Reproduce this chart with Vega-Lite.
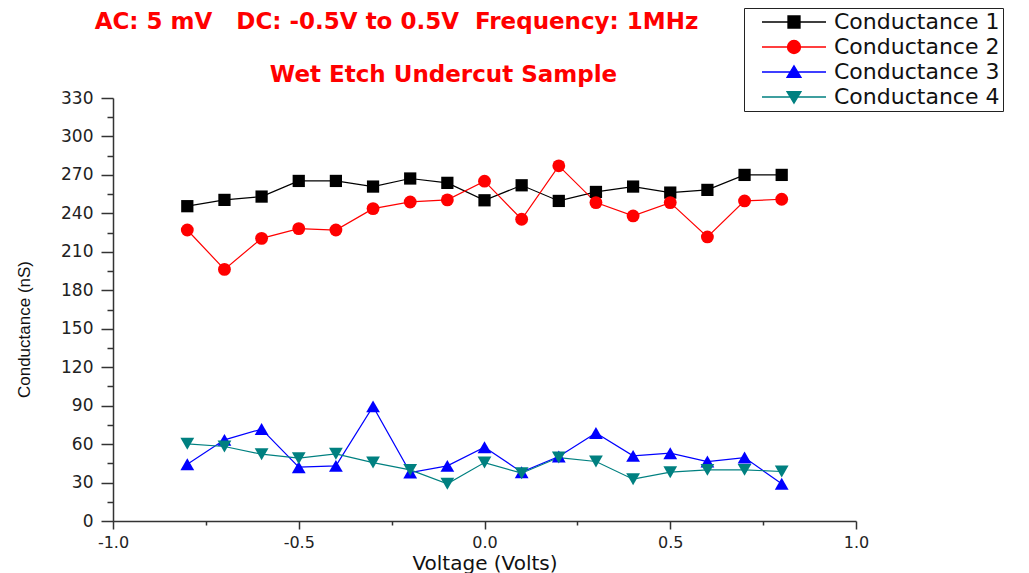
{
  "$schema": "https://vega.github.io/schema/vega-lite/v6.json",
  "width": 1029,
  "height": 573,
  "autosize": {"type": "fit", "contains": "padding"},
  "padding": {"left": 15, "top": 11, "right": 160, "bottom": 0},
  "background": "white",
  "config": {"view": {"stroke": null}},
  "title": {
    "text": "AC: 5 mV\u00a0\u00a0\u00a0DC: -0.5V to 0.5V\u00a0\u00a0Frequency: 1MHz",
    "anchor": "middle",
    "frame": "group",
    "dx": -88,
    "color": "#ff0000",
    "font": "DejaVu Sans",
    "fontWeight": "bold",
    "fontSize": 23,
    "offset": 29
  },
  "data": {
    "values": [
      {"v": -0.8, "g": 245.6, "s": "Conductance 1"},
      {"v": -0.7, "g": 250.5, "s": "Conductance 1"},
      {"v": -0.6, "g": 253.1, "s": "Conductance 1"},
      {"v": -0.5, "g": 265.3, "s": "Conductance 1"},
      {"v": -0.4, "g": 265.3, "s": "Conductance 1"},
      {"v": -0.3, "g": 260.9, "s": "Conductance 1"},
      {"v": -0.2, "g": 267.2, "s": "Conductance 1"},
      {"v": -0.1, "g": 263.8, "s": "Conductance 1"},
      {"v": 0.0, "g": 250.2, "s": "Conductance 1"},
      {"v": 0.1, "g": 261.9, "s": "Conductance 1"},
      {"v": 0.2, "g": 249.7, "s": "Conductance 1"},
      {"v": 0.3, "g": 256.7, "s": "Conductance 1"},
      {"v": 0.4, "g": 260.9, "s": "Conductance 1"},
      {"v": 0.5, "g": 256.2, "s": "Conductance 1"},
      {"v": 0.6, "g": 258.3, "s": "Conductance 1"},
      {"v": 0.7, "g": 270.0, "s": "Conductance 1"},
      {"v": 0.8, "g": 270.0, "s": "Conductance 1"},
      {"v": -0.8, "g": 227.0, "s": "Conductance 2"},
      {"v": -0.7, "g": 196.3, "s": "Conductance 2"},
      {"v": -0.6, "g": 220.5, "s": "Conductance 2"},
      {"v": -0.5, "g": 228.1, "s": "Conductance 2"},
      {"v": -0.4, "g": 227.0, "s": "Conductance 2"},
      {"v": -0.3, "g": 243.7, "s": "Conductance 2"},
      {"v": -0.2, "g": 248.9, "s": "Conductance 2"},
      {"v": -0.1, "g": 250.5, "s": "Conductance 2"},
      {"v": 0.0, "g": 265.1, "s": "Conductance 2"},
      {"v": 0.1, "g": 235.4, "s": "Conductance 2"},
      {"v": 0.2, "g": 277.1, "s": "Conductance 2"},
      {"v": 0.3, "g": 248.4, "s": "Conductance 2"},
      {"v": 0.4, "g": 238.0, "s": "Conductance 2"},
      {"v": 0.5, "g": 248.4, "s": "Conductance 2"},
      {"v": 0.6, "g": 221.6, "s": "Conductance 2"},
      {"v": 0.7, "g": 249.7, "s": "Conductance 2"},
      {"v": 0.8, "g": 251.0, "s": "Conductance 2"},
      {"v": -0.8, "g": 44.3, "s": "Conductance 3"},
      {"v": -0.7, "g": 63.3, "s": "Conductance 3"},
      {"v": -0.6, "g": 71.7, "s": "Conductance 3"},
      {"v": -0.5, "g": 42.0, "s": "Conductance 3"},
      {"v": -0.4, "g": 43.0, "s": "Conductance 3"},
      {"v": -0.3, "g": 89.4, "s": "Conductance 3"},
      {"v": -0.2, "g": 37.8, "s": "Conductance 3"},
      {"v": -0.1, "g": 43.0, "s": "Conductance 3"},
      {"v": 0.0, "g": 57.6, "s": "Conductance 3"},
      {"v": 0.1, "g": 38.1, "s": "Conductance 3"},
      {"v": 0.2, "g": 50.3, "s": "Conductance 3"},
      {"v": 0.3, "g": 68.6, "s": "Conductance 3"},
      {"v": 0.4, "g": 50.8, "s": "Conductance 3"},
      {"v": 0.5, "g": 52.9, "s": "Conductance 3"},
      {"v": 0.6, "g": 46.4, "s": "Conductance 3"},
      {"v": 0.7, "g": 49.5, "s": "Conductance 3"},
      {"v": 0.8, "g": 29.0, "s": "Conductance 3"},
      {"v": -0.8, "g": 60.2, "s": "Conductance 4"},
      {"v": -0.7, "g": 58.1, "s": "Conductance 4"},
      {"v": -0.6, "g": 52.1, "s": "Conductance 4"},
      {"v": -0.5, "g": 49.0, "s": "Conductance 4"},
      {"v": -0.4, "g": 52.4, "s": "Conductance 4"},
      {"v": -0.3, "g": 45.6, "s": "Conductance 4"},
      {"v": -0.2, "g": 39.9, "s": "Conductance 4"},
      {"v": -0.1, "g": 29.0, "s": "Conductance 4"},
      {"v": 0.0, "g": 45.6, "s": "Conductance 4"},
      {"v": 0.1, "g": 37.3, "s": "Conductance 4"},
      {"v": 0.2, "g": 49.5, "s": "Conductance 4"},
      {"v": 0.3, "g": 46.4, "s": "Conductance 4"},
      {"v": 0.4, "g": 32.6, "s": "Conductance 4"},
      {"v": 0.5, "g": 38.1, "s": "Conductance 4"},
      {"v": 0.6, "g": 39.9, "s": "Conductance 4"},
      {"v": 0.7, "g": 39.9, "s": "Conductance 4"},
      {"v": 0.8, "g": 38.6, "s": "Conductance 4"}
    ]
  },
  "encoding": {
    "y": {
      "field": "g", "type": "quantitative",
      "scale": {"domain": [0, 330], "nice": false},
      "axis": {
        "title": "Conductance (nS)",
        "values": [0, 15, 30, 45, 60, 75, 90, 105, 120, 135, 150, 165, 180, 195, 210, 225, 240, 255, 270, 285, 300, 315, 330],
        "labelExpr": "datum.value % 30 === 0 ? format(datum.value, 'd') : ''",
        "grid": false,
        "tickSize": {"condition": {"test": "datum.value % 30 === 0", "value": 12}, "value": 6},
        "tickWidth": 1.5,
        "tickColor": "#333333",
        "domainColor": "#333333",
        "domainWidth": 1.5,
        "labelFont": "DejaVu Sans",
        "labelFontSize": 17,
        "labelColor": "#222222",
        "labelPadding": 8,
        "labelFlush": false,
        "labelOverlap": false,
        "titleFont": "Liberation Sans",
        "titleFontSize": 17,
        "titleFontWeight": "normal",
        "titleColor": "#111111",
        "titlePadding": 27,
        "titleY": 231
      }
    },
    "color": {
      "field": "s", "type": "nominal",
      "scale": {
        "domain": ["Conductance 1", "Conductance 2", "Conductance 3", "Conductance 4"],
        "range": ["#000000", "#ff0000", "#0000ff", "#008080"]
      },
      "legend": {
        "title": null,
        "orient": "none",
        "legendX": 631,
        "legendY": -90,
        "strokeColor": "#222222",
        "padding": 3,
        "symbolSize": 100,
        "symbolOffset": 36,
        "labelOffset": 29,
        "rowPadding": 3,
        "labelFont": "DejaVu Sans",
        "labelFontSize": 22,
        "labelColor": "#111111",
        "labelLimit": 400,
        "encode": {
          "symbols": {
            "update": {
              "shape": {"signal": "datum.value === 'Conductance 1' ? 'M-6.4,0H6.4M-1.2,-1.2H1.2V1.2H-1.2Z' : datum.value === 'Conductance 2' ? 'M-6.4,0H6.4M-1.3,0A1.3,1.3,0,1,0,1.3,0A1.3,1.3,0,1,0,-1.3,0Z' : datum.value === 'Conductance 3' ? 'M-6.4,0H6.4M0,-1.25L1.4,1.05H-1.4Z' : 'M-6.4,0H6.4M0,1.25L1.4,-1.05H-1.4Z'"},
              "size": {"value": 100},
              "fill": {"scale": "color", "field": "value"},
              "stroke": {"scale": "color", "field": "value"},
              "strokeWidth": {"value": 1.3},
              "opacity": {"value": 1}
            }
          }
        }
      }
    }
  },
  "layer": [
    {
      "mark": {"type": "line", "strokeWidth": 1.2},
      "encoding": {
        "x": {
          "field": "v", "type": "quantitative",
          "scale": {"domain": [-1, 1], "nice": false, "zero": false},
          "axis": {
            "orient": "bottom",
            "title": "Voltage (Volts)",
            "values": [-1, -0.75, -0.5, -0.25, 0, 0.25, 0.5, 0.75, 1],
            "labelExpr": "abs(datum.value * 2 - round(datum.value * 2)) < 0.001 ? replace(format(datum.value, '.1f'), '\u2212', '-') : ''",
            "grid": false,
            "tickSize": {"condition": {"test": "abs(datum.value * 2 - round(datum.value * 2)) < 0.001", "value": 8}, "value": 4},
            "tickWidth": 1.5,
            "tickColor": "#333333",
            "domainColor": "#333333",
            "domainWidth": 1.5,
            "labelFont": "DejaVu Sans",
            "labelFontSize": 16,
            "labelColor": "#222222",
            "labelPadding": 5,
            "labelFlush": false,
            "titleFont": "DejaVu Sans",
            "titleFontSize": 20,
            "titleFontWeight": "normal",
            "titleColor": "#111111",
            "titlePadding": 3
          }
        },
        "detail": {"field": "s"}
      }
    },
    {
      "encoding": {
        "x": {
          "field": "v", "type": "quantitative",
          "scale": {"domain": [-1, 1], "nice": false, "zero": false},
          "axis": {
            "orient": "top",
            "title": "Wet Etch Undercut Sample",
            "domain": false,
            "ticks": false,
            "labels": false,
            "grid": false,
            "titleFont": "DejaVu Sans",
            "titleFontSize": 23,
            "titleFontWeight": "bold",
            "titleColor": "#ff0000",
            "titleX": 330,
            "titleY": -24,
            "titleBaseline": "middle"
          }
        }
      },
      "layer": [
        {
          "transform": [{"filter": "datum.s === 'Conductance 1'"}],
          "mark": {"type": "point", "shape": "square", "filled": true, "size": 150, "opacity": 1}
        },
        {
          "transform": [{"filter": "datum.s === 'Conductance 2'"}],
          "mark": {"type": "point", "shape": "circle", "filled": true, "size": 165, "opacity": 1}
        },
        {
          "transform": [{"filter": "datum.s === 'Conductance 3'"}],
          "mark": {"type": "point", "shape": "triangle-up", "filled": true, "size": 190, "opacity": 1}
        },
        {
          "transform": [{"filter": "datum.s === 'Conductance 4'"}],
          "mark": {"type": "point", "shape": "triangle-down", "filled": true, "size": 190, "opacity": 1}
        }
      ]
    }
  ],
  "resolve": {"axis": {"x": "independent"}}
}
